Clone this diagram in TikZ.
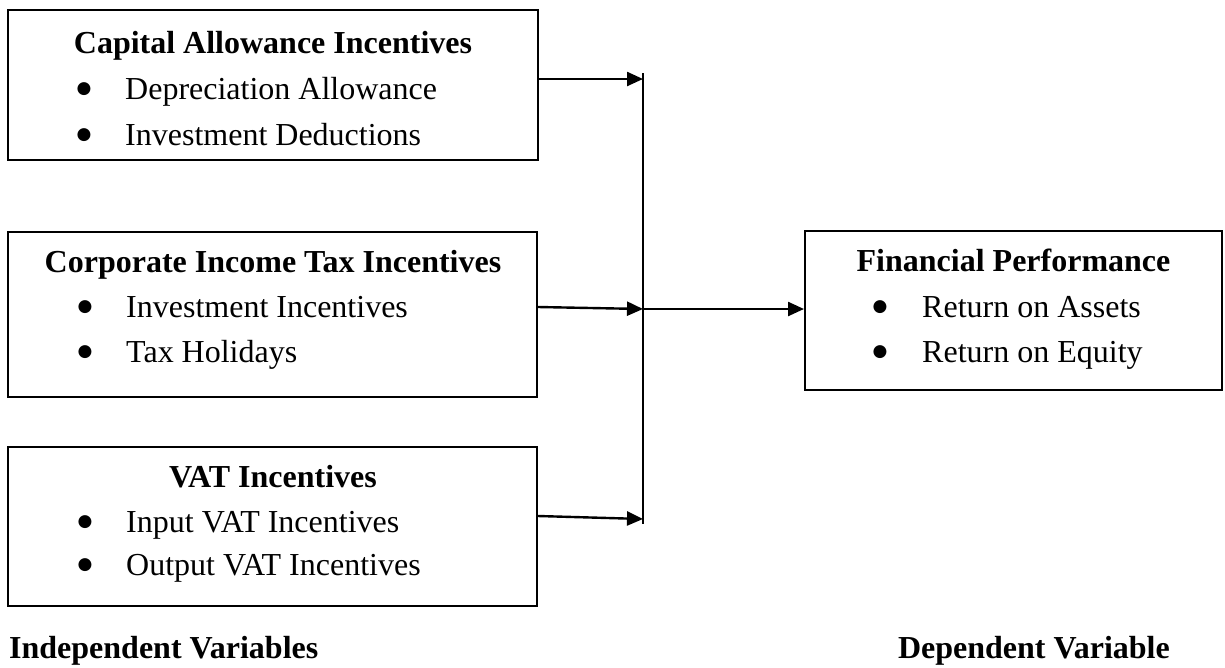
\documentclass[tikz,border=0pt]{standalone}
\usepackage{fontspec}
\setmainfont{Liberation Serif}
\newfontfamily\dvsfont{DejaVu Sans}
\usetikzlibrary{arrows.meta}
\tikzset{
  box/.style={draw, line width=2pt, inner sep=0pt},
  ttl/.style={anchor=base, font=\fontsize{32}{38}\selectfont\bfseries, inner sep=0pt},
  itm/.style={anchor=base west, font=\fontsize{32}{38}\selectfont, inner sep=0pt},
  bul/.style={anchor=base, font=\dvsfont\fontsize{17}{17}\selectfont, inner sep=0pt, yshift=5.5pt},
  lbl/.style={font=\fontsize{32}{38}\selectfont\bfseries, inner sep=0pt},
  arr/.style={line width=2.4pt, -{Triangle[length=16pt,width=14pt]}},
  vln/.style={line width=1.3pt}
}
\begin{document}
\begin{tikzpicture}[x=1pt,y=-1pt]
\useasboundingbox (0,0) rectangle (1225,667);
% boxes
\node[box, minimum width=530pt, minimum height=150.5pt] (b1) at (273,84.75) {};
\node[box, minimum width=529pt, minimum height=165pt] (b2) at (272.5,314.5) {};
\node[box, minimum width=529pt, minimum height=159pt] (b3) at (272.5,526.5) {};
\node[box, minimum width=417pt, minimum height=159pt] (b4) at (1013.5,310.5) {};
% box 1 text
\node[ttl] (t1) at (273,53) {Capital Allowance Incentives};
\node[bul] (u1a) at (84,99) {●};
\node[itm] (i1a) at (125,99) {Depreciation Allowance};
\node[bul] (u1b) at (84,145) {●};
\node[itm] (i1b) at (125,145) {Investment Deductions};
% box 2 text
\node[ttl] (t2) at (273,272) {Corporate Income Tax Incentives};
\node[bul] (u2a) at (85,317) {●};
\node[itm] (i2a) at (126,317) {Investment Incentives};
\node[bul] (u2b) at (85,362) {●};
\node[itm] (i2b) at (126,362) {Tax Holidays};
% box 3 text
\node[ttl] (t3) at (273,487) {VAT Incentives};
\node[bul] (u3a) at (85,532) {●};
\node[itm] (i3a) at (126,532) {Input VAT Incentives};
\node[bul] (u3b) at (85,575) {●};
\node[itm] (i3b) at (126,575) {Output VAT Incentives};
% box 4 text
\node[ttl] (t4) at (1013.5,271) {Financial Performance};
\node[bul] (u4a) at (880,317) {●};
\node[itm] (i4a) at (922,317) {Return on Assets};
\node[bul] (u4b) at (880,362) {●};
\node[itm] (i4b) at (922,362) {Return on Equity};
% bottom labels
\node[lbl, anchor=base west] (ind) at (9,658) {Independent Variables};
\node[lbl, anchor=base east] (dep) at (1170,658) {Dependent Variable};
% connectors
\coordinate (vtop) at (643,73);
\coordinate (vbot) at (643,524);
\coordinate (j1) at (643,79);
\coordinate (j2) at (643,309);
\coordinate (j3) at (643,519);
\draw[vln] (vtop) -- (vbot);
\draw[arr] (b1.east |- 0,79) -- (j1);
\draw[arr] (b2.east |- 0,307) -- (j2);
\draw[arr] (b3.east |- 0,516) -- (j3);
\draw[arr] (j2) -- (b4.west |- j2);
\end{tikzpicture}
\end{document}
